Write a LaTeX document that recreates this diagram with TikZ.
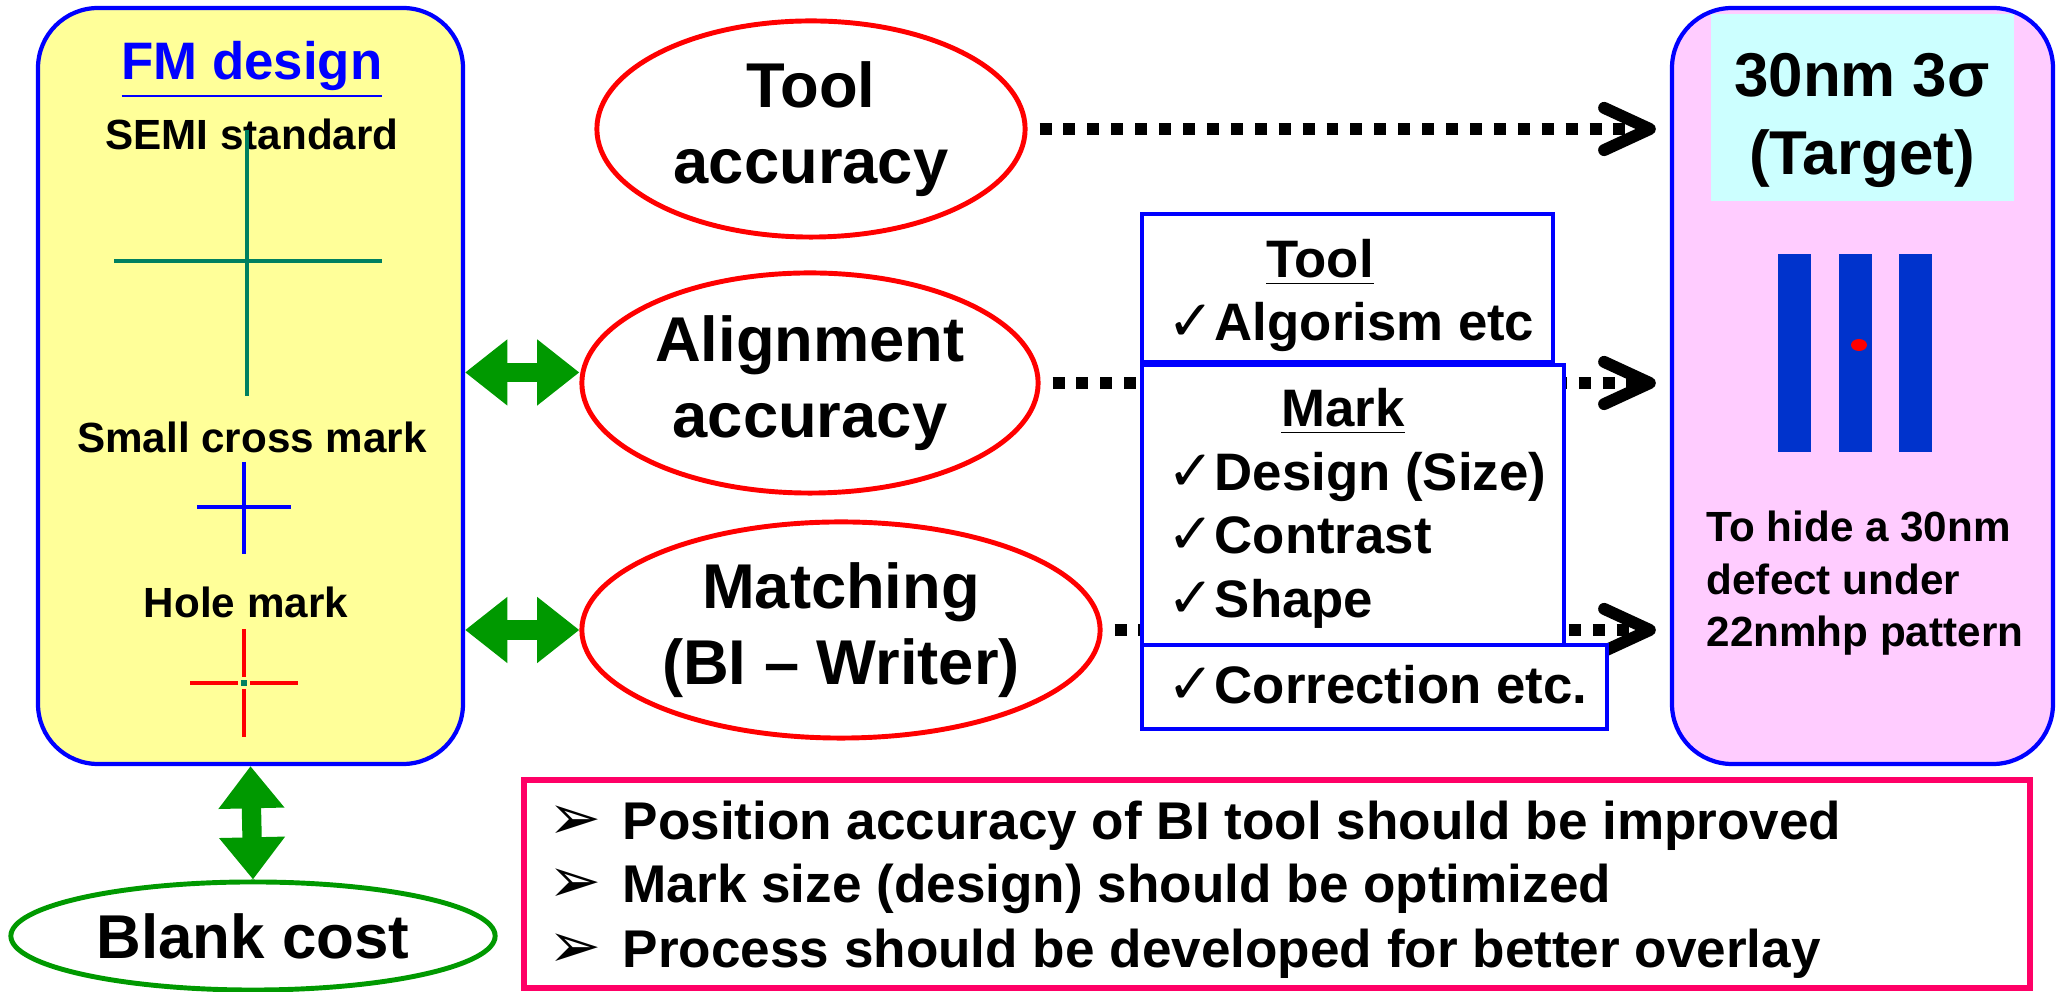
\documentclass[tikz,border=0pt]{standalone}
\usepackage{fontspec}
\setmainfont{Liberation Sans}
\newfontfamily\symfont{DejaVu Sans}
\usetikzlibrary{
  arrows.meta,
  positioning,
  shapes.geometric,
  fit
}
\definecolor{fmyellow}{RGB}{255,255,153}
\definecolor{fmblue}{RGB}{0,0,255}
\definecolor{ovalred}{RGB}{255,0,0}
\definecolor{linkgreen}{RGB}{0,153,0}
\definecolor{semigreen}{RGB}{0,128,96}
\definecolor{targetpink}{RGB}{255,204,255}
\definecolor{targetcyan}{RGB}{204,255,255}
\definecolor{barblue}{RGB}{0,51,204}
\definecolor{noteframe}{RGB}{255,0,102}
\newcommand{\okmark}{{\symfont\mdseries\fontsize{16}{18}\selectfont ✓}}
\newcommand{\notebullet}{\makebox[0.74cm][l]{\symfont\mdseries\fontsize{18}{18}\selectfont ➢}}

\begin{document}
\begin{tikzpicture}[
  x=0.01cm, y=-0.01cm,
  every node/.style={font=\bfseries, inner sep=0pt},
  panel/.style={draw=fmblue, line width=1.2pt, rounded corners=0.6cm, inner sep=0pt},
  goal/.style={ellipse, draw=ovalred, line width=1.4pt, align=center, font=\fontsize{18}{21.6}\selectfont\bfseries},
  factor/.style={draw=fmblue, line width=1.4pt, fill=white, inner sep=0pt},
  item/.style={anchor=base west, font=\fontsize{15}{18}\selectfont\bfseries},
  caption/.style={anchor=base, font=\fontsize{12}{14}\selectfont\bfseries},
  note/.style={anchor=base west, font=\fontsize{15.1}{18}\selectfont\bfseries},
  dotarrow/.style={line width=3.4pt, dash pattern=on 3.4pt off 3.4pt, shorten <=3.4pt, shorten >=4pt,
    -{Straight Barb[length=13pt,width=12pt,line cap=round,line join=round]}},
  linkarrow/.style={color=linkgreen, line width=5.5pt,
    {Triangle[length=12pt,width=18pt]}-{Triangle[length=12pt,width=18pt]}},
]
\useasboundingbox (0,0) rectangle (2062,992);

% FM design panel
\node[panel, fill=fmyellow, fit={(38,8) (463,764)}] (fm) {};
\node[anchor=base, text=fmblue, font=\fontsize{15}{18}\selectfont\bfseries] (fmtitle) at (252,80) {\underline{FM design}};
\node[caption] (semi) at (252,150) {SEMI standard};
\draw[semigreen, line width=1.4pt] (247,130) -- (247,396) (114,261) -- (382,261);
\node[caption] (small) at (252,453) {Small cross mark};
\draw[fmblue, line width=0.9pt] (244,462) -- (244,554) (197,507) -- (291,507);
\node[caption] (hole) at (246,618) {Hole mark};
\foreach \a in {0,90,180,270}
  \draw[ovalred, line width=1.4pt] (244,683) ++(\a:6) -- ++(\a:48);
\fill[semigreen] (241,680) rectangle (247,686);

\node[ellipse, draw=linkgreen, line width=1.4pt, minimum width=4.84cm, minimum height=1.08cm,
  font=\fontsize{17.6}{20}\selectfont\bfseries] (blank) at (253,936) {Blank cost};

% accuracy items
\node[goal, minimum width=4.28cm, minimum height=2.16cm] (tool) at (811,129) {Tool\\accuracy};
\node[goal, minimum width=4.56cm, minimum height=2.2cm] (align) at (810,383) {Alignment\\accuracy};
\node[goal, minimum width=5.18cm, minimum height=2.16cm] (match) at (841,630) {Matching\\(BI – Writer)};

% target panel
\node[panel, fill=targetpink, fit={(1672,8) (2053,764)}] (target) {};
\fill[targetcyan] (1711,14) rectangle (2014,201);
\node[anchor=base, font=\fontsize{17.6}{21}\selectfont\bfseries] (spec) at (1862,97) {30nm 3σ};
\node[anchor=base, font=\fontsize{17.6}{21}\selectfont\bfseries] (spectag) at (1862,175) {(Target)};
\foreach \x in {1778,1839,1899}
  \fill[barblue] (\x,254) rectangle ++(33,198);
\fill[ovalred] (1859,345) ellipse [x radius=8, y radius=6];
\node[caption, anchor=base west] (hide1) at (1706,542) {To hide a 30nm};
\node[caption, anchor=base west] (hide2) at (1706,595) {defect under};
\node[caption, anchor=base west] (hide3) at (1706,647) {22nmhp pattern};

% links
\draw[linkarrow] ([yshift=3pt]align.west -| fm.east) -- ([yshift=3pt]align.west);
\draw[linkarrow] (match.west -| fm.east) -- (match.west);
\draw[linkarrow] (fm.south) -- (blank.north);
\draw[dotarrow] (tool.east) -- (tool.east -| target.west);
\draw[dotarrow] (align.east) -- (align.east -| target.west);
\draw[dotarrow] (match.east) -- (match.east -| target.west);

% factor boxes
\node[factor, fit={(1142,214) (1553,362)}] (toolbox) {};
\node[factor, fit={(1142,365) (1564,645)}] (markbox) {};
\node[factor, fit={(1142,645) (1607,729)}] (corrbox) {};
\node[item, anchor=base] (tooltitle) at (1320,278) {\underline{Tool}};
\node[item] (algo) at (1167,341) {\okmark Algorism etc};
\node[item, anchor=base] (marktitle) at (1343,427) {\underline{Mark}};
\node[item] (design) at (1167,491) {\okmark Design (Size)};
\node[item] (contrast) at (1167,554) {\okmark Contrast};
\node[item] (shape) at (1167,618) {\okmark Shape};
\node[item] (corr) at (1167,704) {\okmark Correction etc.};

% conclusions
\node[draw=noteframe, line width=1.7pt, fit={(524,780) (2030,988)}] (notes) {};
\node[note] (note1) at (548,840) {\notebullet Position accuracy of BI tool should be improved};
\node[note] (note2) at (548,903) {\notebullet Mark size (design) should be optimized};
\node[note] (note3) at (548,968) {\notebullet Process should be developed for better overlay};

\end{tikzpicture}
\end{document}
